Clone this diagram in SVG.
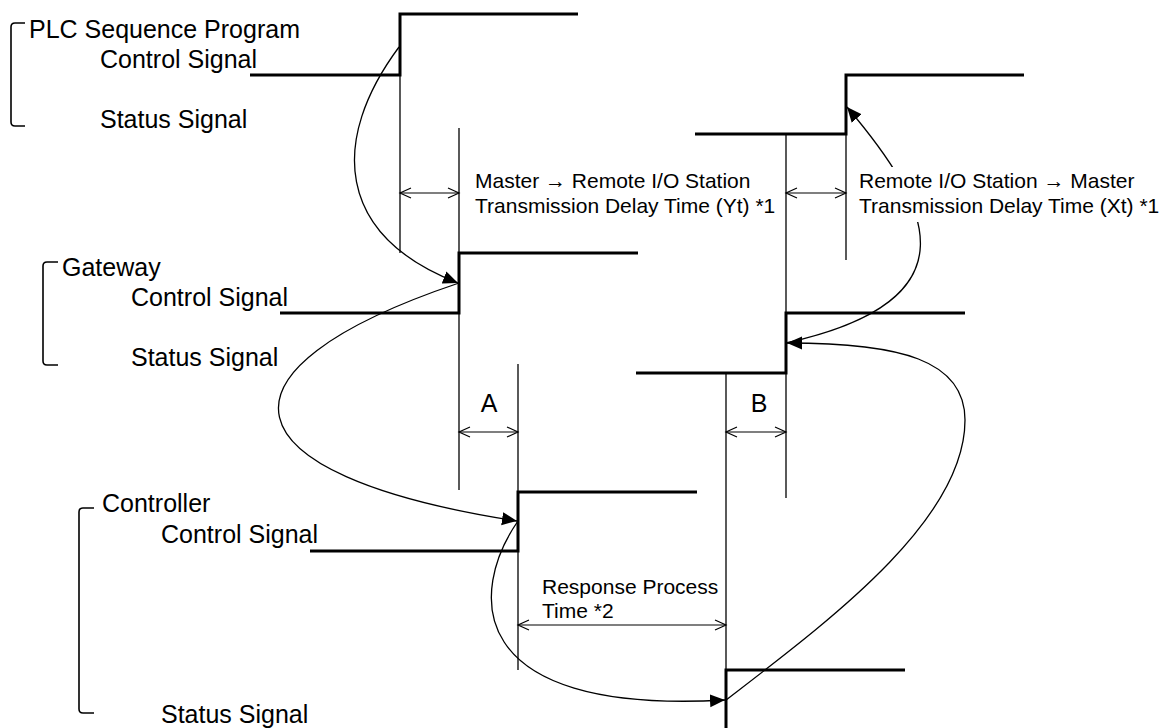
<svg xmlns="http://www.w3.org/2000/svg" width="1161" height="728" viewBox="0 0 1161 728">
<style>
.lbl{font-family:"Liberation Sans",Arial,sans-serif;font-size:25px;fill:#000}
.ann{font-family:"Liberation Sans",Arial,sans-serif;font-size:21px;fill:#000}
.sig{fill:none;stroke:#000;stroke-width:3;stroke-linejoin:miter}
.thin{fill:none;stroke:#000;stroke-width:1.3}
.brk{fill:none;stroke:#000;stroke-width:1.6}
.dim{fill:none;stroke:#000;stroke-width:1.2;marker-start:url(#open);marker-end:url(#open)}
.flow{fill:none;stroke:#000;stroke-width:1.3;marker-end:url(#solid)}
</style>
<defs>
<marker id="open" viewBox="-12 -6 14 12" refX="0" refY="0" markerWidth="14" markerHeight="12" markerUnits="userSpaceOnUse" orient="auto-start-reverse">
<path d="M -11 -5 L 0 0 L -11 5" fill="none" stroke="#000" stroke-width="1.2"/>
</marker>
<marker id="solid" viewBox="-15 -7 16 14" refX="0" refY="0" markerWidth="16" markerHeight="14" markerUnits="userSpaceOnUse" orient="auto">
<path d="M -15 -6.5 L 0 0 L -15 6.5 Z" fill="#000"/>
</marker>
</defs>
<rect width="1161" height="728" fill="#fff"/>

<g id="plc">
<path class="brk" d="M 25 23 H 15 Q 11 23 11 27 V 122 Q 11 126 15 126 H 25"/>
<text class="lbl" x="29" y="38">PLC Sequence Program</text>
<text class="lbl" x="100" y="68">Control Signal</text>
<text class="lbl" x="100" y="128">Status Signal</text>
<path class="sig" d="M 250 75 H 400 V 14 H 578"/>
<path class="sig" d="M 695 134 H 846 V 75 H 1024"/>
</g>

<g id="gateway">
<path class="brk" d="M 58 262 H 47 Q 43 262 43 266 V 361 Q 43 365 47 365 H 58"/>
<text class="lbl" x="62" y="276">Gateway</text>
<text class="lbl" x="131" y="306">Control Signal</text>
<text class="lbl" x="131" y="366">Status Signal</text>
<path class="sig" d="M 280 313 H 459 V 253 H 638"/>
<path class="sig" d="M 636 373 H 786 V 313 H 965"/>
</g>

<g id="controller">
<path class="brk" d="M 94 508 H 83 Q 79 508 79 512 V 709 Q 79 713 83 713 H 94"/>
<text class="lbl" x="102" y="512">Controller</text>
<text class="lbl" x="161" y="543">Control Signal</text>
<text class="lbl" x="161" y="723">Status Signal</text>
<path class="sig" d="M 310 551 H 518 V 492 H 697"/>
<path class="sig" d="M 726 732 V 670 H 905"/>
</g>

<g id="timing-lines">
<path class="thin" d="M 400 75 V 253"/>
<path class="thin" d="M 459 128 V 490"/>
<path class="thin" d="M 518 364 V 670"/>
<path class="thin" d="M 726 373 V 670"/>
<path class="thin" d="M 786 133 V 498"/>
<path class="thin" d="M 846 133 V 260"/>
</g>

<g id="connectors">
<path class="dim" d="M 400 193 H 459"/>
<path class="dim" d="M 786 193 H 846"/>
<path class="dim" d="M 459 432 H 518"/>
<path class="dim" d="M 726 432 H 786"/>
<path class="dim" d="M 518 625 H 726"/>
<path class="flow" d="M 399 47 C 330 140, 335 235, 458 283"/>
<path class="flow" d="M 459 283 C 200 370, 220 475, 517 521"/>
<path class="flow" d="M 518 521 C 470 590, 460 715, 725 700"/>
<path class="thin" d="M 726 700 C 830 620, 965 520, 965 420"/>
<path class="flow" d="M 965 420 C 965 360, 900 343, 787 343"/>
<path class="flow" d="M 786 343 C 980 300, 930 205, 847 107"/>
</g>

<g id="labels">
<text class="ann" x="475" y="188">Master → Remote I/O Station</text>
<text class="ann" x="475" y="213">Transmission Delay Time (Yt) *1</text>
<rect x="856" y="167" width="76" height="55" fill="#fff"/>
<text class="ann" x="859" y="188">Remote I/O Station → Master</text>
<text class="ann" x="859" y="213">Transmission Delay Time (Xt) *1</text>
<text class="lbl" x="489" y="412" text-anchor="middle">A</text>
<text class="lbl" x="759" y="412" text-anchor="middle">B</text>
<text class="ann" x="542" y="594">Response Process</text>
<text class="ann" x="542" y="618">Time *2</text>
</g>
</svg>
